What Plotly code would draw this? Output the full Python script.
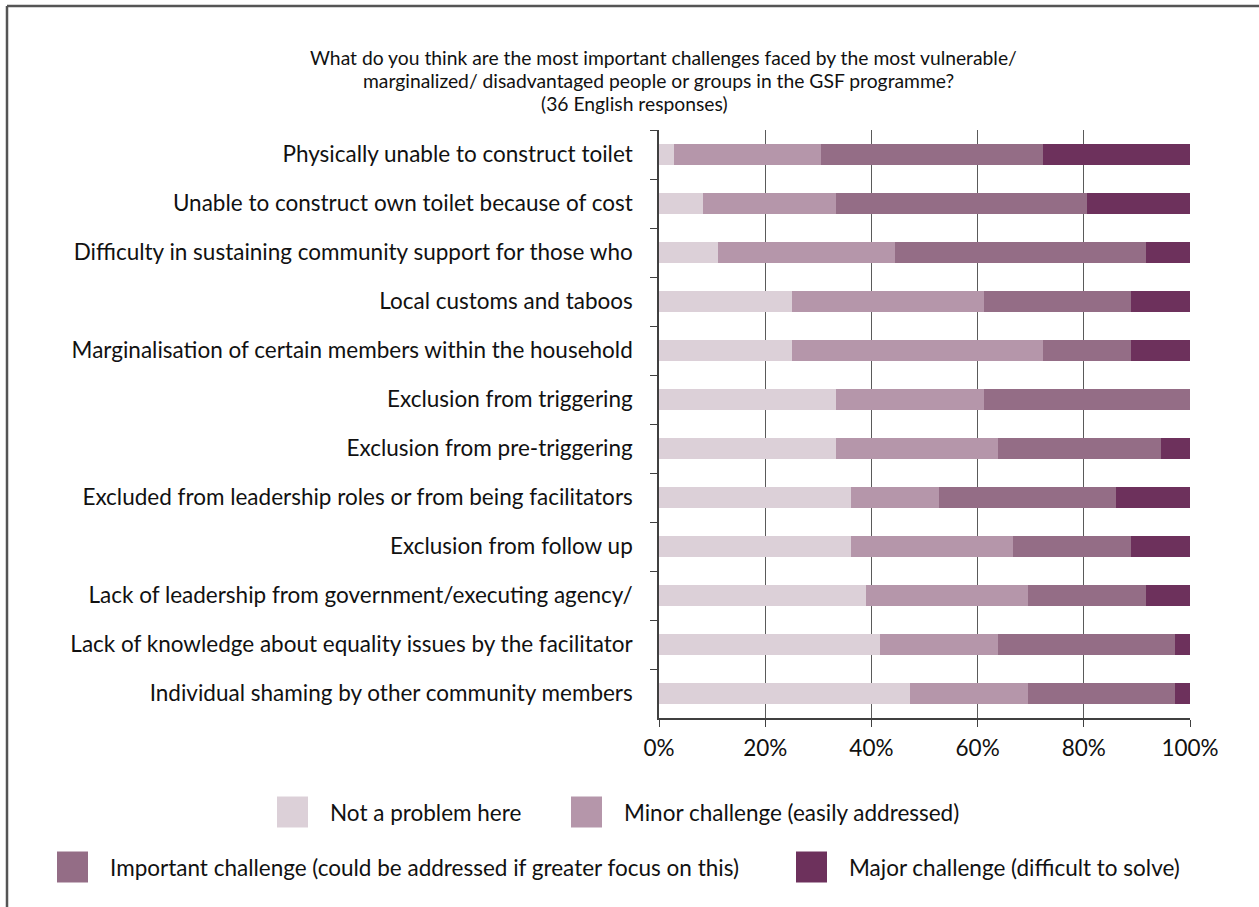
import plotly.graph_objects as go

categories = [
    "Physically unable to construct toilet",
    "Unable to construct own toilet because of cost",
    "Difficulty in sustaining community support for those who",
    "Local customs and taboos",
    "Marginalisation of certain members within the household",
    "Exclusion from triggering",
    "Exclusion from pre-triggering",
    "Excluded from leadership roles or from being facilitators",
    "Exclusion from follow up",
    "Lack of leadership from government/executing agency/",
    "Lack of knowledge about equality issues by the facilitator",
    "Individual shaming by other community members",
]

series_names = [
    "Not a problem here",
    "Minor challenge (easily addressed)",
    "Important challenge (could be addressed if greater focus on this)",
    "Major challenge (difficult to solve)",
]

# response counts (out of 36)
not_a_problem = [1, 3, 4, 9, 9, 12, 12, 13, 13, 14, 15, 17]
minor = [10, 9, 12, 13, 17, 10, 11, 6, 11, 11, 8, 8]
important = [15, 17, 17, 10, 6, 14, 11, 12, 8, 8, 12, 10]
major = [10, 7, 3, 4, 4, 0, 2, 5, 4, 3, 1, 1]

x_tick_values = [0, 20, 40, 60, 80, 100]
x_tick_labels = ["0%", "20%", "40%", "60%", "80%", "100%"]

title_lines = [
    "What do you think are the most important challenges faced by the most vulnerable/",
    "marginalized/ disadvantaged people or groups in the GSF programme?",
    "(36 English responses)",
]

colors = ["#dcd0d8", "#b596aa", "#946d86", "#6d315c"]

FONT = "Lato"
W, H = 1259, 907
L, R, T, B = 659, 1190, 130, 718


def px_x(px):
    return (px - L) / (R - L)


def px_y(py):
    return (B - py) / (B - T)


fig = go.Figure()
for name, vals, col in zip(series_names, [not_a_problem, minor, important, major], colors):
    fig.add_trace(go.Bar(
        y=categories, x=vals, name=name, orientation="h",
        marker=dict(color=col, line=dict(width=0)),
        showlegend=False,
    ))

shapes = []
annotations = []

# title lines
for text, cx, cy in zip(title_lines, [663, 658, 634], [57, 80, 103]):
    annotations.append(dict(
        text=text, xref="paper", yref="paper", x=px_x(cx), y=px_y(cy),
        xanchor="center", yanchor="middle", showarrow=False,
        font=dict(family=FONT, size=19.3, color="#111111"),
    ))

# manual legend
leg_pos = [(277, 812), (571, 812), (57, 867), (796, 867)]
sw = 31
for (lx, ly), name, col in zip(leg_pos, series_names, colors):
    shapes.append(dict(
        type="rect", xref="paper", yref="paper",
        x0=px_x(lx), x1=px_x(lx + sw), y0=px_y(ly - sw / 2), y1=px_y(ly + sw / 2),
        fillcolor=col, line=dict(width=0),
    ))
    annotations.append(dict(
        text=name, xref="paper", yref="paper", x=px_x(lx + sw + 20), y=px_y(ly),
        xanchor="left", yanchor="middle", showarrow=False,
        font=dict(family=FONT, size=22.5, color="#111111"),
    ))

# outer frame (top and left edges visible)
shapes.append(dict(type="line", xref="paper", yref="paper",
                   x0=px_x(7), x1=px_x(1262), y0=px_y(6), y1=px_y(6),
                   line=dict(color="#555555", width=2.5)))
shapes.append(dict(type="line", xref="paper", yref="paper",
                   x0=px_x(7), x1=px_x(7), y0=px_y(6), y1=px_y(910),
                   line=dict(color="#555555", width=2.5)))

fig.update_layout(
    width=W, height=H,
    margin=dict(l=L, r=W - R, t=T, b=H - B, pad=0),
    barmode="stack", barnorm="percent", bargap=0.59,
    plot_bgcolor="white", paper_bgcolor="white",
    font=dict(family=FONT, size=22.5, color="#111111"),
    shapes=shapes, annotations=annotations,
    showlegend=False,
)
fig.update_xaxes(
    range=[0, 100], tickvals=x_tick_values, ticktext=x_tick_labels,
    showgrid=True, gridcolor="#5a5a5a", gridwidth=1,
    showline=True, linecolor="#404040", linewidth=1.5,
    ticks="outside", ticklen=7, tickcolor="#404040", tickwidth=1,
    zeroline=False, tickfont=dict(family=FONT, size=22.5, color="#111111"),
    ticklabelstandoff=2,
)
fig.update_yaxes(
    autorange="reversed", showgrid=False,
    showline=True, linecolor="#404040", linewidth=1.5,
    ticks="outside", tickson="boundaries", ticklen=7, tickcolor="#404040",
    tickfont=dict(family=FONT, size=22.5, color="#111111"),
    ticklabelstandoff=20,
)

fig.write_html("out.html")
